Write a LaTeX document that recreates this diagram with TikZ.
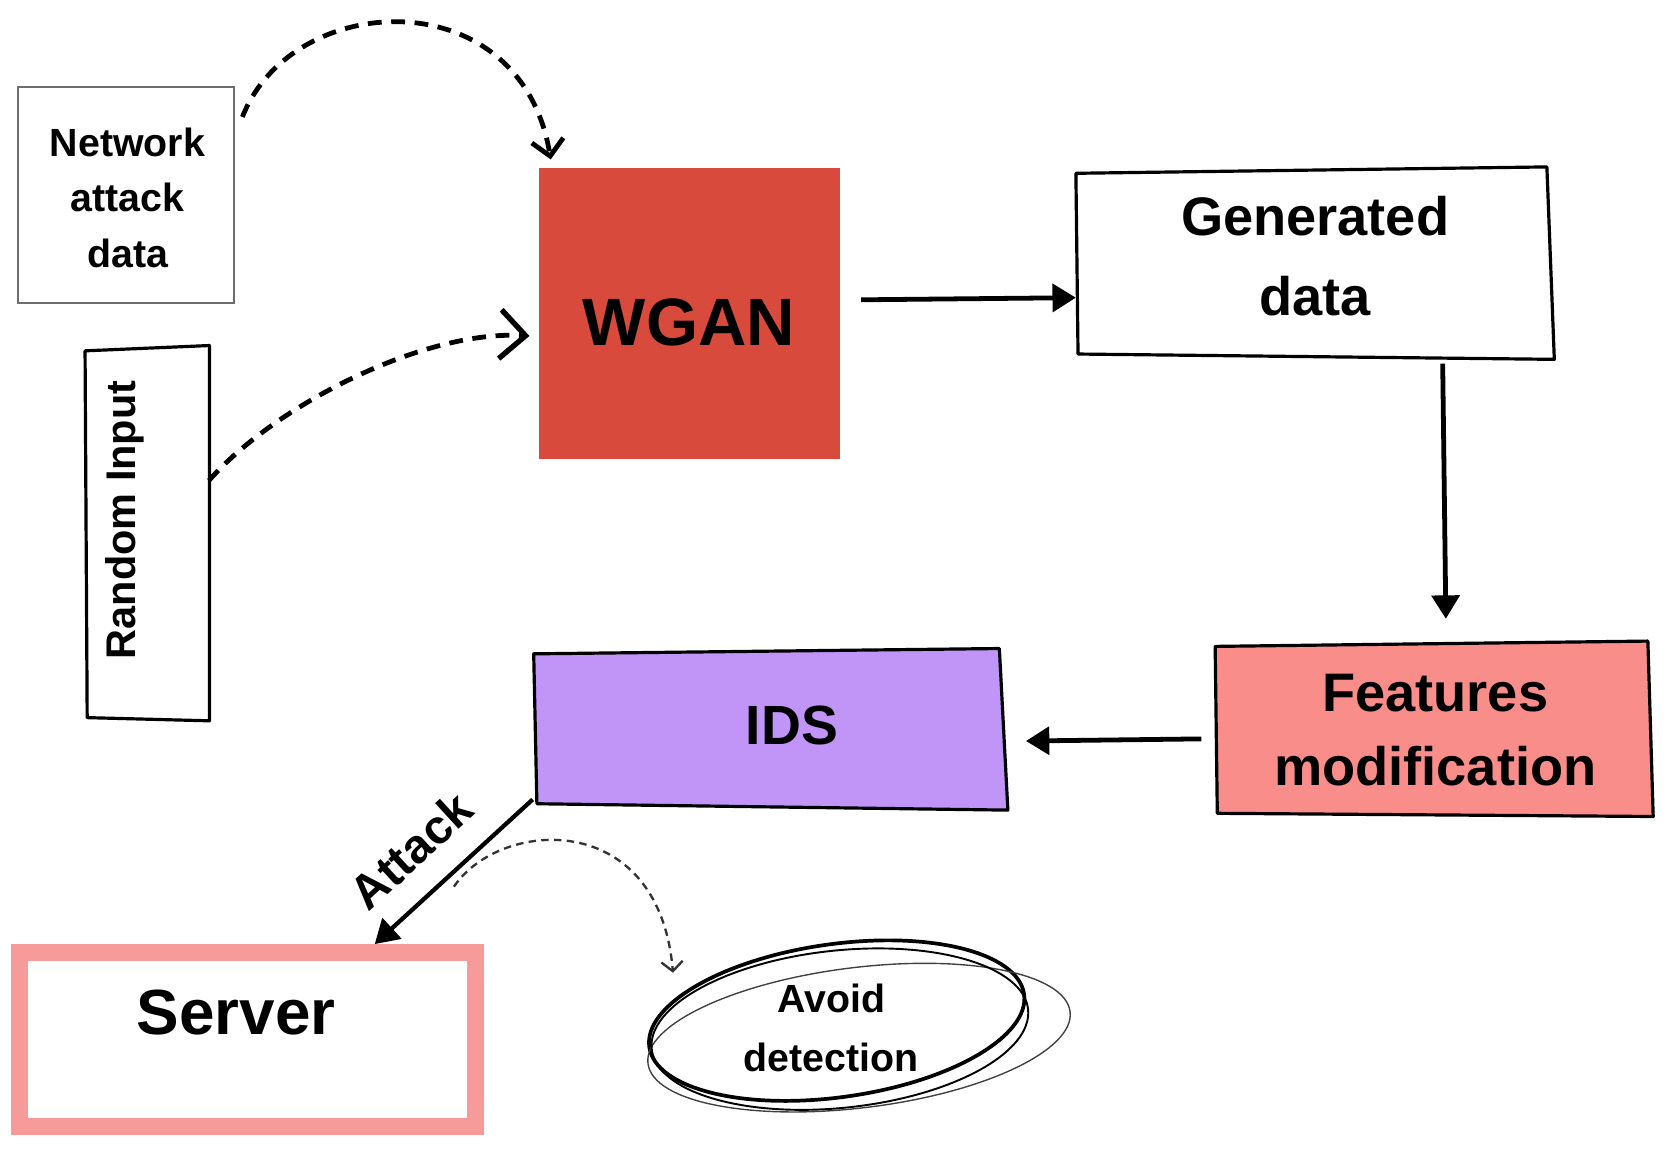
\documentclass[tikz,border=0pt]{standalone}
\usepackage{fontspec}
\setmainfont{Liberation Sans}
\usetikzlibrary{arrows.meta}
\definecolor{wganred}{RGB}{216,74,59}
\definecolor{featpink}{RGB}{249,141,138}
\definecolor{idsviolet}{RGB}{193,149,248}
\definecolor{serverpink}{RGB}{247,154,154}
\definecolor{boxgray}{RGB}{110,110,110}
\begin{document}
\begin{tikzpicture}[x=1pt,y=-1pt,
  holder/.style={draw=none, inner sep=0pt, outer sep=0pt},
  txt/.style={font=\bfseries, align=center, inner sep=0pt},
  handline/.style={line width=3pt, line join=round},
  solidarrow/.style={line width=4.5pt, -{Triangle[length=22pt,width=26pt]}},
  dasharrow/.style={line width=4.5pt, dash pattern=on 13pt off 9pt},
  thindash/.style={line width=2.2pt, draw=black!80, dash pattern=on 7pt off 5pt,
     -{Straight Barb[length=9pt,width=20pt,line width=2.2pt]}}]
\useasboundingbox (0,0) rectangle (1568,1082);

% Network attack data
\node[holder, minimum width=203pt, minimum height=203pt] (nad) at (118.5,183.5) {};
\draw[boxgray, line width=2pt] (17,82) rectangle (220,285);
\node[txt, font=\bfseries\fontsize{37}{52}\selectfont] (nadtxt) at (120,186) {Network\\attack\\data};

% Random Input
\node[holder, minimum width=117pt, minimum height=350pt] (rin) at (138,502) {};
\draw[handline] (80,330) -- (197,325) -- (197,678) -- (82,675) -- cycle;
\node[txt, rotate=90, font=\bfseries\fontsize{39}{45}\selectfont] (rintxt) at (117,489) {Random Input};

% WGAN
\node[holder, fill=wganred, minimum width=283pt, minimum height=274pt] (wgan) at (648.5,295) {};
\node[txt, font=\bfseries\fontsize{63}{70}\selectfont] (wgantxt) at (648,303) {WGAN};

% Generated data
\node[holder, minimum width=446pt, minimum height=178pt] (gen) at (1237,248) {};
\draw[handline] (1012,163) -- (1455,157) -- (1462,338) -- (1014,333) -- cycle;
\node[txt, font=\bfseries\fontsize{51}{75}\selectfont] (gentxt) at (1237,241) {Generated\\data};

% Features modification
\node[holder, minimum width=410pt, minimum height=162pt] (feat) at (1349,686) {};
\draw[handline, fill=featpink] (1143,608) -- (1550,603) -- (1555,768) -- (1145,765) -- cycle;
\node[txt, font=\bfseries\fontsize{51}{70}\selectfont] (feattxt) at (1350,687) {Features\\modification};

% IDS
\node[holder, minimum width=444pt, minimum height=148pt] (ids) at (725,686) {};
\draw[handline, fill=idsviolet] (502,615) -- (940,610) -- (948,762) -- (505,756) -- cycle;
\node[txt, font=\bfseries\fontsize{52}{60}\selectfont] (idstxt) at (745,682) {IDS};

% Server
\node[holder, minimum width=445pt, minimum height=180pt] (server) at (232.5,978) {};
\draw[serverpink, line width=16pt] (18,896) rectangle (447,1060);
\node[txt, font=\bfseries\fontsize{60}{66}\selectfont] (servertxt) at (222,952) {Server};

% Avoid detection
\node[holder, minimum width=360pt, minimum height=144pt] (avoid) at (787,962) {};
\draw[line width=3.5pt] (787,960) ellipse [x radius=178, y radius=72, rotate=8];
\draw[line width=1.3pt, black!75] (808,976) ellipse [x radius=200, y radius=66, rotate=7];
\draw[line width=1.8pt] (790,968) ellipse [x radius=178, y radius=74, rotate=6];
\node[txt, font=\bfseries\fontsize{37}{55}\selectfont] (avoidtxt) at (782,967) {Avoid\\detection};

% connectors
\draw[solidarrow] ([shift={(20,-13)}]wgan.east) -- ([shift={(-2,32)}]gen.west);
\draw[solidarrow] ([shift={(120,5)}]gen.south) -- ([shift={(11,-23)}]feat.north);
\draw[solidarrow] ([shift={(-14,9)}]feat.west) -- ([shift={(18,11)}]ids.east);
\draw[solidarrow, line width=4pt] ([shift={(-2,-8)}]ids.south west) -- ([xshift=120pt]server.north)
  node[pos=0.58, sloped, above=20pt, font=\bfseries\fontsize{45}{50}\selectfont] (attacklbl) {Attack};

\draw[dasharrow, -{Straight Barb[length=15pt,width=30pt,line width=4.5pt]}]
  ([shift={(8,28)}]nad.north east) .. controls (275,-10) and (490,-20) .. ([shift={(11,-8)}]wgan.north west);
\draw[dasharrow, -{Straight Barb[length=24pt,width=46pt,line width=5pt]}]
  ([yshift=50pt]rin.east) .. controls (260,380) and (400,310) .. ([shift={(-9,21)}]wgan.west);

\coordinate (dstart) at (427,834);
\draw[thindash] (dstart) .. controls (470,770) and (620,760) .. ([shift={(-154,-47)}]avoid.center);
\end{tikzpicture}
\end{document}
